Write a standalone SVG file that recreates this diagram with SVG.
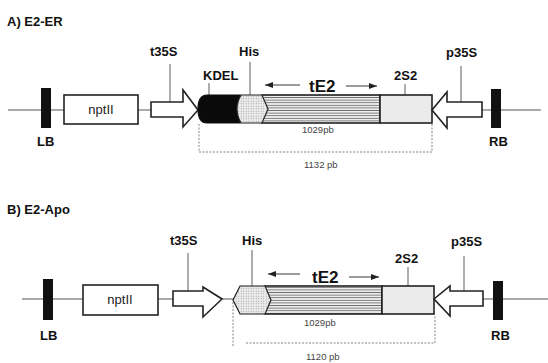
<svg xmlns="http://www.w3.org/2000/svg" width="548" height="363" viewBox="0 0 548 363">
<defs>
<pattern id="stripes" width="6" height="2.6" patternUnits="userSpaceOnUse">
<rect width="6" height="2.6" fill="#eeeeee"/>
<line x1="0" y1="1.3" x2="6" y2="1.3" stroke="#6e6e6e" stroke-width="0.9"/>
</pattern>
<pattern id="dots" width="2.5" height="2.5" patternUnits="userSpaceOnUse">
<rect width="2.5" height="2.5" fill="#ececec"/>
<circle cx="1.25" cy="1.25" r="0.55" fill="#9a9a9a"/>
</pattern>
<marker id="ah" viewBox="0 0 8 6" refX="8" refY="3" markerWidth="8" markerHeight="6" orient="auto" markerUnits="userSpaceOnUse">
<path d="M0,0 L8,3 L0,6 Z" fill="#222"/>
</marker>
</defs>
<style>
.bb{stroke:#555;stroke-width:1;fill:none}
.box{fill:#fff;stroke:#222;stroke-width:1.6}
.bar{fill:#111}
.lab{font-family:"Liberation Sans",Arial,sans-serif;font-weight:bold;font-size:13px;fill:#111}
.ttl{font-family:"Liberation Sans",Arial,sans-serif;font-weight:bold;font-size:13px;fill:#111}
.reg{font-family:"Liberation Sans",Arial,sans-serif;font-size:13px;fill:#222}
.big{font-family:"Liberation Sans",Arial,sans-serif;font-weight:bold;font-size:17px;fill:#111}
.sm{font-family:"Liberation Sans",Arial,sans-serif;font-size:9.5px;fill:#444}
.tick{stroke:#333;stroke-width:0.8}
.dot{stroke:#777;stroke-width:0.9;stroke-dasharray:2,1.5;fill:none}
.ar{stroke:#222;stroke-width:0.9;fill:none}
.gene{stroke:#222;stroke-width:1.6}
</style>

<text class="ttl" x="7" y="26">A) E2-ER</text>
<text class="ttl" x="7" y="214">B) E2-Apo</text>

<g id="connectors">
<!-- A backbone -->
<line class="bb" x1="8" y1="110" x2="41" y2="110"/>
<line class="bb" x1="51" y1="110" x2="64" y2="110"/>
<line class="bb" x1="138" y1="110" x2="151" y2="110"/>
<line class="bb" x1="482" y1="110" x2="491" y2="110"/>
<line class="bb" x1="501" y1="110" x2="541" y2="110"/>
<!-- A ticks -->
<line class="tick" x1="170" y1="64" x2="170" y2="102"/>
<line class="tick" x1="209" y1="83" x2="209" y2="95"/>
<line class="tick" x1="250" y1="62" x2="250" y2="95"/>
<line class="tick" x1="405" y1="84" x2="405" y2="95"/>
<line class="tick" x1="461" y1="66" x2="461" y2="103"/>
<line class="ar" x1="300" y1="85" x2="265" y2="85" marker-end="url(#ah)"/>
<line class="ar" x1="346" y1="86" x2="377" y2="86" marker-end="url(#ah)"/>
<!-- A dotted span -->
<path class="dot" d="M199,124 V152 H432 V124"/>

<!-- B backbone -->
<line class="bb" x1="22" y1="299" x2="43" y2="299"/>
<line class="bb" x1="53" y1="299" x2="83" y2="299"/>
<line class="bb" x1="158" y1="299" x2="173" y2="299"/>
<line class="bb" x1="222" y1="299" x2="233" y2="299"/>
<line class="bb" x1="483" y1="299" x2="493" y2="299"/>
<line class="bb" x1="503" y1="299" x2="548" y2="299"/>
<!-- B ticks -->
<line class="tick" x1="188" y1="253" x2="188" y2="292"/>
<line class="tick" x1="252" y1="250" x2="252" y2="286"/>
<line class="tick" x1="408" y1="267" x2="408" y2="287"/>
<line class="tick" x1="464" y1="256" x2="464" y2="293"/>
<line class="ar" x1="300" y1="274" x2="268" y2="274" marker-end="url(#ah)"/>
<line class="ar" x1="349" y1="277" x2="379" y2="277" marker-end="url(#ah)"/>
<!-- B dotted span -->
<path class="dot" d="M233,302 V347"/>
<path class="dot" d="M246,343 H435 V315"/>
</g>

<!-- Panel A nodes -->
<g id="A-LB">
<rect class="bar" x="41" y="88" width="10" height="40"/>
<text class="lab" x="37" y="146">LB</text>
</g>
<g id="A-nptII">
<rect class="box" x="64" y="95" width="74" height="29"/>
<text class="reg" x="101" y="114" text-anchor="middle">nptII</text>
</g>
<g id="A-t35S">
<path class="box" d="M151,102 H183 V90 L198,110 L183,127 V117 H151 Z"/>
<text class="lab" x="150" y="56">t35S</text>
</g>
<g id="A-tE2">
<rect x="262" y="95" width="118" height="28" fill="url(#stripes)" class="gene"/>
<text class="big" x="309" y="92">tE2</text>
<text class="sm" x="302" y="133">1029pb</text>
</g>
<g id="A-KDEL">
<path d="M240,95 H207 Q198,95 198,109 Q198,123 207,123 H240 Z" fill="#0a0a0a" stroke="#111" stroke-width="1.2"/>
<text class="lab" x="203" y="80">KDEL</text>
</g>
<g id="A-His">
<path d="M241,95 H262 L268,109 L262,123 H241 Q233,109 241,95 Z" fill="url(#dots)" stroke="#222" stroke-width="1.2"/>
<text class="lab" x="239" y="56">His</text>
</g>
<g id="A-2S2">
<rect x="380" y="95" width="52" height="28" fill="#ebebeb" class="gene"/>
<text class="lab" x="394" y="80">2S2</text>
</g>
<g id="A-p35S">
<path class="box" d="M482,102 H447 V92 L432,110 L447,128 V117 H482 Z"/>
<text class="lab" x="446" y="57">p35S</text>
</g>
<g id="A-RB">
<rect class="bar" x="491" y="89" width="10" height="39"/>
<text class="lab" x="489" y="146">RB</text>
</g>
<g id="A-span">
<text class="sm" x="304" y="168">1132 pb</text>
</g>

<!-- Panel B nodes -->
<g id="B-LB">
<rect class="bar" x="43" y="279" width="10" height="41"/>
<text class="lab" x="40" y="340">LB</text>
</g>
<g id="B-nptII">
<rect class="box" x="83" y="285" width="75" height="30"/>
<text class="reg" x="120" y="304" text-anchor="middle">nptII</text>
</g>
<g id="B-t35S">
<path class="box" d="M173,291 H203 V287 L222,299 L203,317 V306 H173 Z"/>
<text class="lab" x="170" y="245">t35S</text>
</g>
<g id="B-tE2">
<rect x="265" y="286" width="117" height="28" fill="url(#stripes)" class="gene"/>
<text class="big" x="312" y="283">tE2</text>
<text class="sm" x="304" y="326">1029pb</text>
</g>
<g id="B-His">
<path d="M240,286 H265 L271,300 L265,314 H240 L233,300 Z" fill="url(#dots)" stroke="#222" stroke-width="1.2"/>
<text class="lab" x="242" y="245">His</text>
</g>
<g id="B-2S2">
<rect x="382" y="286" width="52" height="28" fill="#ebebeb" class="gene"/>
<text class="lab" x="395" y="263">2S2</text>
</g>
<g id="B-p35S">
<path class="box" d="M483,291 H450 V286 L434,299 L450,316 V306 H483 Z"/>
<text class="lab" x="451" y="246">p35S</text>
</g>
<g id="B-RB">
<rect class="bar" x="493" y="281" width="10" height="39"/>
<text class="lab" x="491" y="340">RB</text>
</g>
<g id="B-span">
<text class="sm" x="306" y="360">1120 pb</text>
</g>
</svg>
